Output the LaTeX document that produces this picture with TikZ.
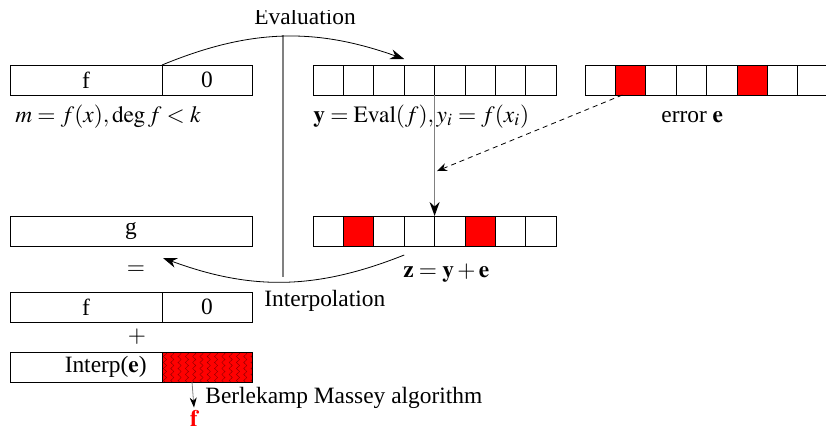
\documentclass[tikz,border=0pt]{standalone}
\usepackage{mathptmx}
\usepackage{fontspec}
\setmainfont{Liberation Serif}
\usepackage{xcolor}
\definecolor{errred}{rgb}{1,0,0}
\definecolor{conn}{gray}{0.5}
\usetikzlibrary{arrows.meta}
\usetikzlibrary{decorations.pathmorphing}
\usetikzlibrary{calc}

\tikzset{
  cell/.style={draw, minimum width=15.2pt, minimum height=15pt, inner sep=0pt, outer sep=0pt},
  errcell/.style={cell, fill=errred},
  lbl/.style={inner sep=0pt, anchor=base west},
  arr/.style={-{Stealth[length=7pt,width=5pt]}},
}

\begin{document}
\begin{tikzpicture}[x=0.5pt, y=-0.5pt, every node/.style={font=\fontsize{11.7}{14}\selectfont}]
\useasboundingbox (0,0) rectangle (826,430);

% message m
  \node[cell, minimum width=76pt] (mf) at (86,80) {f};
  \node[cell, minimum width=45pt] (m0) at (207,80) {0};
  \node[lbl] (mlab) at (15,122) {$m=f(x),\deg f<k$};

% codeword y
  \foreach \i in {1,...,8}
    \node[cell] (y\i) at ({313+(\i-0.5)*30.4},80) {};
  \node[lbl] (ylab) at (313,122) {$\mathbf{y}=\mathrm{Eval}(f), y_i=f(x_i)$};

% error e
  \foreach \i/\s in {1/cell,2/errcell,3/cell,4/cell,5/cell,6/errcell,7/cell,8/cell}
    \node[\s] (e\i) at ({585+(\i-0.5)*30.4},80) {};
  \node[lbl] (elab) at (661,122) {error $\mathbf{e}$};

% received z
  \foreach \i/\s in {1/cell,2/errcell,3/cell,4/cell,5/cell,6/errcell,7/cell,8/cell}
    \node[\s] (z\i) at ({313+(\i-0.5)*30.4},231) {};
  \node[lbl] (zlab) at (403,277) {$\mathbf{z}=\mathbf{y}+\mathbf{e}$};

% decoding side
  \node[cell, minimum width=121pt] (g) at (131,231) {g};
  \node (eq) at (136,270) {$=$};
  \node[cell, minimum width=76pt] (rf) at (86,307) {f};
  \node[cell, minimum width=45pt] (r0) at (207,307) {0};
  \node (plus) at (137,337) {$+$};
  \node[cell, minimum width=76pt] (ie) at (86,367) {};
  \node[anchor=east, inner sep=0pt] (ielab) at ($(ie.east)+(-15,0)$) {Interp($\mathbf{e}$)};
  \node[errcell, minimum width=45pt] (iz) at (207,367) {};
  \begin{scope}
    \clip (iz.south west) rectangle (iz.north east);
    \foreach \x in {0,...,12}
      \draw[red!55!black, line width=0.2pt, decorate, decoration={zigzag, segment length=3pt, amplitude=0.8pt}]
        ($(iz.north west)+(3+\x*7.3,0)$) -- ($(iz.south west)+(3+\x*7.3,0)$);
  \end{scope}
  \draw (iz.south west) rectangle (iz.north east);

% separator
  \draw[conn, line width=0.75pt] (283,35) -- (283,277);

% Evaluation
  \coordinate (evtip) at ($(y3.north east)+(0,-6)$);
  \draw[arr] (mf.north east) to[bend left=21] (evtip);
  \begin{scope}
    \clip (0,10) rectangle (826,40);
    \node[anchor=base] (evlab) at (305,24) {Evaluation};
  \end{scope}

% error added
  \coordinate (addtip) at (437,171);
  \draw[-{Stealth[length=5pt,width=4pt]}, dash pattern=on 2.5pt off 2pt] ($(e2.south west)+(7,0)$) -- (addtip);
  \draw[conn, line width=0.75pt, -{Stealth[length=7pt,width=5pt,color=black]}] (y4.south east) -- (z4.north east);

% Interpolation
  \coordinate (ipstart) at ($(z3.south east)+(0,9)$);
  \coordinate (iptip) at ($(g.south)+(32,12)$);
  \draw[arr] (ipstart) to[bend left=21] (iptip);
  \node[lbl] (iplab) at (264,306) {Interpolation};

% Berlekamp Massey
  \node[text=errred, inner sep=1pt] (fout) at (194,418) {$\mathbf{f}$};
  \draw[conn, -{Stealth[length=5pt,width=3.5pt,color=black]}] ($(iz.south west)+(30,0)$) -- (fout.north);
  \node[lbl] (bmlab) at (205,403) {Berlekamp Massey algorithm};

\end{tikzpicture}
\end{document}
